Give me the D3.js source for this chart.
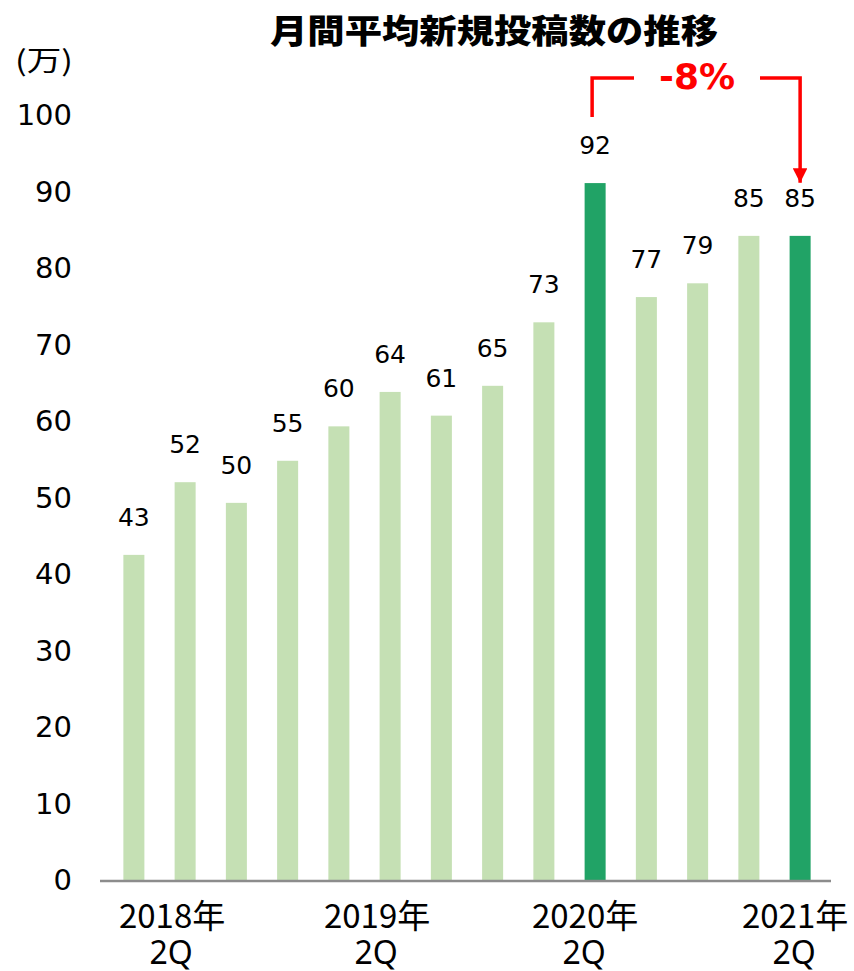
<!DOCTYPE html>
<html>
<head>
<meta charset="utf-8">
<script src="https://cdn.jsdelivr.net/npm/d3@7"></script>
<style>
  body { margin: 0; background: #fff; }
  svg { display: block; }
</style>
</head>
<body>
<div id="chart"></div>
<script>
// data
const quarters = ["2018Q2", "2018Q3", "2018Q4", "2019Q1", "2019Q2", "2019Q3", "2019Q4",
                  "2020Q1", "2020Q2", "2020Q3", "2020Q4", "2021Q1", "2021Q2", "2021Q3"];
const posts = [42.5, 52.0, 49.3, 54.8, 59.3, 63.8, 60.7, 64.6, 72.9, 91.1, 76.2, 78.0, 84.2, 84.2];
const postLabels = ["43", "52", "50", "55", "60", "64", "61", "65", "73", "92", "77", "79", "85", "85"];
const highlight = ["2020Q3", "2021Q3"];
const xTickYears = ["2018年", "2019年", "2020年", "2021年"];
const xTickQuarter = ["2Q", "2Q", "2Q", "2Q"];
const xTickAt = ["2018Q3", "2019Q3", "2020Q3", "2021Q3"];
const yTicks = [0, 10, 20, 30, 40, 50, 60, 70, 80, 90, 100];
const title = "月間平均新規投稿数の推移";
const unit = "(万)";
const change = "-8%";

const W = 854, H = 971;
const light = "#c5e0b4", dark = "#21a366", red = "#ff0000";

const svg = d3.select("#chart").append("svg")
    .attr("width", W).attr("height", H);

const x = d3.scaleBand().domain(quarters).range([108, 826]).paddingInner(0.59).paddingOuter(0.3);
const y = d3.scaleLinear().domain([0, 100]).range([880, 115]);

// title
svg.append("text")
    .attr("x", 494).attr("y", 43)
    .attr("text-anchor", "middle")
    .attr("font-family", "'Noto Sans CJK JP'")
    .attr("font-weight", 900)
    .attr("font-size", 33)
    .attr("textLength", 448).attr("lengthAdjust", "spacingAndGlyphs")
    .text(title);

// unit
svg.append("text")
    .attr("x", 15).attr("y", 71)
    .attr("font-family", "'Noto Sans CJK JP'")
    .attr("font-size", 28)
    .attr("textLength", 58).attr("lengthAdjust", "spacingAndGlyphs")
    .text(unit);

// y tick labels (no axis line)
svg.append("g").selectAll("text")
    .data(yTicks).enter().append("text")
    .attr("x", 72).attr("y", d => y(d))
    .attr("dy", "0.36em")
    .attr("text-anchor", "end")
    .attr("font-family", "'DejaVu Sans'")
    .attr("font-size", 29)
    .attr("fill", "#000")
    .text(d => d);

// bars
svg.append("g").selectAll("rect")
    .data(quarters).enter().append("rect")
    .attr("x", d => x(d))
    .attr("width", x.bandwidth())
    .attr("y", (d, i) => y(posts[i]))
    .attr("height", (d, i) => y(0) - y(posts[i]))
    .attr("fill", d => highlight.includes(d) ? dark : light);

// value labels
svg.append("g").selectAll("text")
    .data(quarters).enter().append("text")
    .attr("x", d => x(d) + x.bandwidth() / 2)
    .attr("y", (d, i) => y(posts[i]) - 29)
    .attr("text-anchor", "middle")
    .attr("font-family", "'DejaVu Sans'")
    .attr("font-size", 25)
    .text((d, i) => postLabels[i]);

// x axis line
svg.append("line")
    .attr("x1", 100).attr("x2", 831)
    .attr("y1", y(0) + 1).attr("y2", y(0) + 1)
    .attr("stroke", "#8c8c8c").attr("stroke-width", 2.5);

// x tick labels, two lines
const nudge = [13, 13, 10, 5];
svg.append("g").selectAll("text")
    .data(xTickAt).enter().append("text")
    .attr("x", (d, i) => x(d) + x.bandwidth() / 2 - nudge[i])
    .attr("y", 928)
    .attr("text-anchor", "middle")
    .attr("font-family", "'Noto Sans CJK JP'")
    .attr("font-size", 33)
    .text((d, i) => xTickYears[i]);
svg.append("g").selectAll("text")
    .data(xTickAt).enter().append("text")
    .attr("x", (d, i) => x(d) + x.bandwidth() / 2 - nudge[i] - 1)
    .attr("y", 964)
    .attr("text-anchor", "middle")
    .attr("font-family", "'Noto Sans'")
    .attr("font-size", 32)
    .text((d, i) => xTickQuarter[i]);

// -8% bracket from 2020Q3 to 2021Q3
const xa = x(highlight[0]) + x.bandwidth() / 2 - 3;
const xb = x(highlight[1]) + x.bandwidth() / 2;
const yTop = 78;
svg.append("defs").append("marker")
    .attr("id", "arr").attr("viewBox", "0 0 10 10")
    .attr("refX", 10).attr("refY", 5)
    .attr("markerWidth", 4.2).attr("markerHeight", 4.2)
    .attr("markerUnits", "strokeWidth")
    .attr("orient", "auto")
  .append("path").attr("d", "M0,0L10,5L0,10Z").attr("fill", red);

svg.append("path")
    .attr("d", `M${xa},117V${yTop}H634`)
    .attr("fill", "none").attr("stroke", red).attr("stroke-width", 3.5);
svg.append("path")
    .attr("d", `M760,${yTop}H${xb}V${y(posts[13]) - 53}`)
    .attr("fill", "none").attr("stroke", red).attr("stroke-width", 3.5)
    .attr("marker-end", "url(#arr)");
svg.append("text")
    .attr("x", 697).attr("y", 89)
    .attr("text-anchor", "middle")
    .attr("font-family", "'DejaVu Sans'")
    .attr("font-weight", "bold")
    .attr("font-size", 36)
    .attr("fill", red)
    .text(change);
</script>
</body>
</html>
